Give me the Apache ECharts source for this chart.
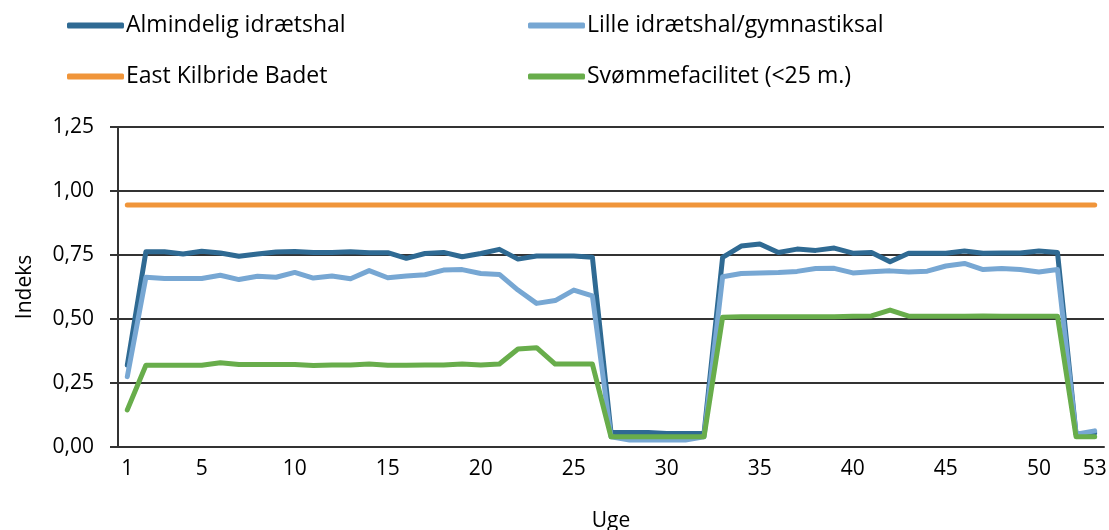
<!DOCTYPE html>
<html>
<head>
<meta charset="utf-8">
<script src="https://cdn.jsdelivr.net/npm/echarts@6/dist/echarts.min.js"></script>
<style>
    html, body { margin: 0; padding: 0; background: #fff; }
    #chart { width: 1109px; height: 530px; }
</style>
</head>
<body>
<div id="chart"></div>
<script>
    // uger 1..53
    const weeks = [];
    for (let i = 1; i <= 53; i++) {
        weeks.push(String(i));
    }
    const shownWeekLabels = ['1', '5', '10', '15', '20', '25', '30', '35', '40', '45', '50', '53'];
    const yTicks = [0, 0.25, 0.5, 0.75, 1, 1.25];

    const almindelig = [
        0.32, 0.763, 0.763, 0.754, 0.765, 0.758, 0.745, 0.754, 0.762, 0.764,
        0.76, 0.76, 0.763, 0.759, 0.759, 0.737, 0.756, 0.76, 0.743, 0.756,
        0.772, 0.734, 0.746, 0.746, 0.746, 0.741, 0.057, 0.057, 0.057, 0.053,
        0.053, 0.053, 0.741, 0.785, 0.793, 0.76, 0.773, 0.768, 0.777, 0.757,
        0.76, 0.724, 0.757, 0.757, 0.757, 0.766, 0.757, 0.758, 0.758, 0.766,
        0.76, 0.05, 0.055
    ];
    const lille = [
        0.275, 0.663, 0.658, 0.658, 0.658, 0.671, 0.654, 0.667, 0.663, 0.682,
        0.66, 0.668, 0.657, 0.689, 0.661, 0.668, 0.673, 0.691, 0.693, 0.678,
        0.674, 0.613, 0.561, 0.572, 0.613, 0.59, 0.04, 0.027, 0.027, 0.027,
        0.027, 0.04, 0.665, 0.678, 0.68, 0.682, 0.686, 0.697, 0.698, 0.68,
        0.685, 0.688, 0.684, 0.687, 0.707, 0.717, 0.693, 0.697, 0.693, 0.684,
        0.693, 0.05, 0.063
    ];
    const eastKilbride = [];
    for (let i = 0; i < 53; i++) {
        eastKilbride.push(0.945);
    }
    const svoemme = [
        0.145, 0.319, 0.319, 0.319, 0.319, 0.329, 0.322, 0.322, 0.322, 0.322,
        0.318, 0.32, 0.32, 0.324, 0.319, 0.319, 0.32, 0.32, 0.324, 0.32,
        0.324, 0.383, 0.388, 0.324, 0.324, 0.324, 0.04, 0.04, 0.04, 0.04,
        0.04, 0.04, 0.507, 0.509, 0.509, 0.509, 0.509, 0.509, 0.509, 0.511,
        0.512, 0.535, 0.511, 0.511, 0.511, 0.511, 0.512, 0.511, 0.511, 0.511,
        0.511, 0.04, 0.04
    ];

    const names = ['Almindelig idrætshal', 'Lille idrætshal/gymnastiksal', 'East Kilbride Badet', 'Svømmefacilitet (<25 m.)'];
    const colors = ['#2f6a93', '#77a7d3', '#f0953a', '#68ad4b'];
    const values = [almindelig, lille, eastKilbride, svoemme];

    const font = 'Open Sans';

    // en legende pr. serie, placeret frit
    const legendPos = [
        {left: 62, top: 9},
        {left: 523, top: 9},
        {left: 62, top: 60},
        {left: 523, top: 60}
    ];
    const legends = names.map(function (name, i) {
        return {
            data: [name],
            left: legendPos[i].left,
            top: legendPos[i].top,
            icon: 'roundRect',
            itemWidth: 57,
            itemHeight: 6,
            itemGap: 0,
            textStyle: {
                fontFamily: font,
                fontSize: 23,
                color: '#000',
                padding: [0, 0, 0, -3]
            }
        };
    });

    const series = names.map(function (name, i) {
        return {
            name: name,
            type: 'line',
            data: values[i],
            symbol: 'none',
            smooth: false,
            lineStyle: {
                color: colors[i],
                width: 5,
                cap: 'round',
                join: 'round'
            },
            itemStyle: {color: colors[i]},
            animation: false
        };
    });

    const option = {
        animation: false,
        legend: legends,
        grid: {
            left: 118,
            right: 5,
            top: 127,
            bottom: 83,
            containLabel: false,
            outerBoundsMode: 'none'
        },
        xAxis: {
            type: 'category',
            data: weeks,
            boundaryGap: true,
            name: 'Uge',
            nameLocation: 'middle',
            nameGap: 64,
            nameTextStyle: {fontFamily: font, fontSize: 21, color: '#000'},
            axisLine: {lineStyle: {color: '#333', width: 2}},
            axisTick: {show: false},
            axisLabel: {
                interval: function (index, value) {
                    return shownWeekLabels.indexOf(value) !== -1;
                },
                margin: 12,
                fontFamily: font,
                fontSize: 21,
                color: '#000'
            }
        },
        yAxis: {
            type: 'value',
            min: yTicks[0],
            max: yTicks[yTicks.length - 1],
            interval: 0.25,
            name: 'Indeks',
            nameLocation: 'middle',
            nameGap: 82,
            nameTextStyle: {fontFamily: font, fontSize: 21, color: '#000'},
            axisLine: {show: true, lineStyle: {color: '#333', width: 2}},
            axisTick: {show: true, length: 8, lineStyle: {color: '#333', width: 2}},
            splitLine: {show: true, lineStyle: {color: '#333', width: 2}},
            axisLabel: {
                margin: 24,
                fontFamily: font,
                fontSize: 21,
                color: '#000',
                formatter: function (v) {
                    return v.toFixed(2).replace('.', ',');
                }
            }
        },
        series: series
    };

    const chart = echarts.init(document.getElementById('chart'));
    chart.setOption(option);
</script>
</body>
</html>
